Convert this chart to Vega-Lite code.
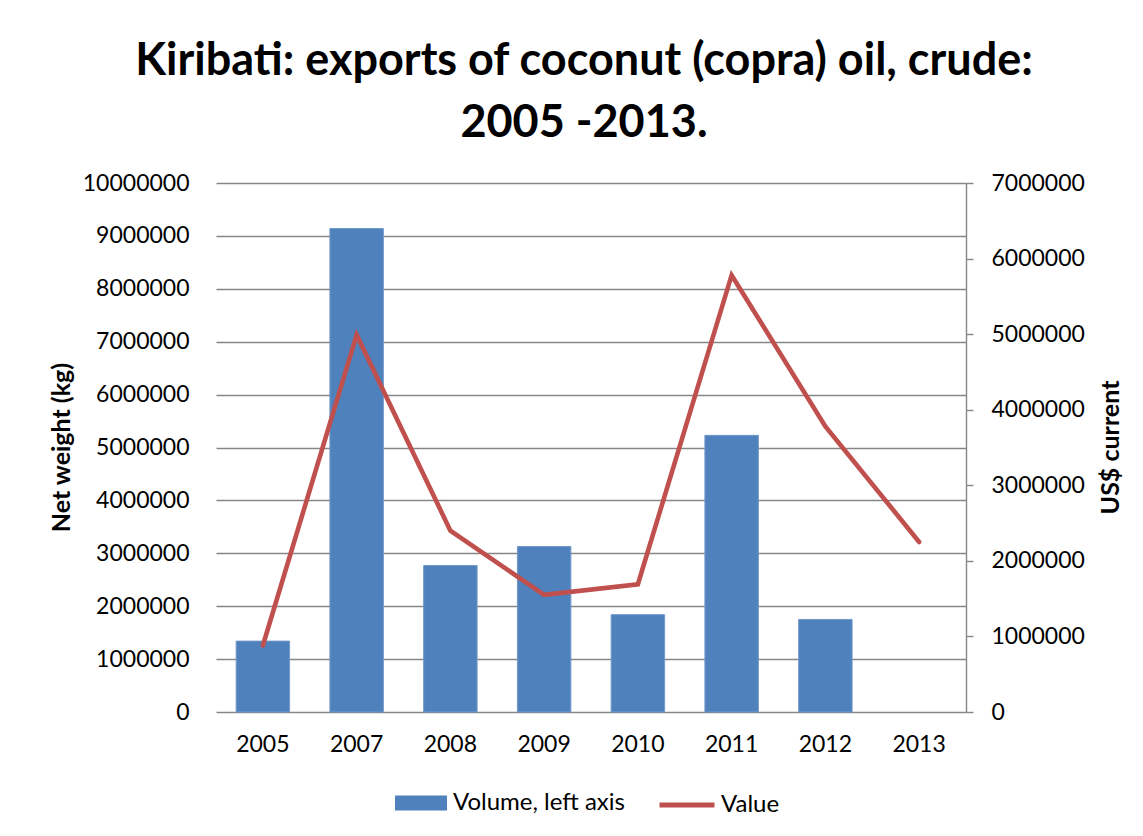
{
  "$schema": "https://vega.github.io/schema/vega-lite/v6.json",
  "width": 750,
  "height": 529,
  "autosize": {"type": "none"},
  "padding": {"left": 216, "top": 183, "right": 177, "bottom": 124},
  "background": "white",
  "title": {
    "text": ["Kiribati: exports of coconut (copra) oil, crude:", "2005 -2013."],
    "font": "Lato",
    "fontSize": 45,
    "fontWeight": "bold",
    "color": "black",
    "anchor": "middle",
    "dx": -7,
    "offset": 26,
    "lineHeight": 62
  },
  "config": {
    "view": {"stroke": null},
    "axis": {"labelFont": "Lato", "labelFontSize": 23, "labelColor": "black", "titleFont": "Lato", "titleFontSize": 25, "titleFontWeight": "bold", "titleColor": "black"}
  },
  "data": {
    "values": [
      {"year": "2005", "volume": 1340000, "value": 880000},
      {"year": "2007", "volume": 9140000, "value": 4990000},
      {"year": "2008", "volume": 2770000, "value": 2400000},
      {"year": "2009", "volume": 3130000, "value": 1550000},
      {"year": "2010", "volume": 1840000, "value": 1690000},
      {"year": "2011", "volume": 5230000, "value": 5780000},
      {"year": "2012", "volume": 1750000, "value": 3780000},
      {"year": "2013", "volume": null, "value": 2250000}
    ]
  },
  "encoding": {
    "x": {
      "field": "year",
      "type": "nominal",
      "sort": null,
      "scale": {"paddingInner": 0.43, "paddingOuter": 0.215},
      "axis": {"title": null, "labelAngle": 0, "domain": false, "ticks": false, "labelPadding": 21}
    }
  },
  "layer": [
    {
      "mark": {"type": "bar", "stroke": "#7398c9", "strokeWidth": 1},
      "encoding": {
        "y": {
          "field": "volume",
          "type": "quantitative",
          "scale": {"domain": [0, 10000000], "nice": false},
          "axis": {
            "orient": "left",
            "title": "Net weight (kg)",
            "values": [0, 1000000, 2000000, 3000000, 4000000, 5000000, 6000000, 7000000, 8000000, 9000000, 10000000],
            "format": "d",
            "grid": true,
            "gridColor": "#868686",
            "gridWidth": 1.4,
            "domain": false,
            "ticks": false,
            "labelPadding": 27,
            "titleAngle": 270,
            "titleX": -155,
            "titleY": 264,
            "titleAlign": "center",
            "titleBaseline": "middle"
          }
        },
        "fill": {
          "datum": "Volume, left axis",
          "type": "nominal",
          "scale": {"domain": ["Volume, left axis"], "range": ["#4F81BD"]},
          "legend": {
            "orient": "none",
            "legendX": 179,
            "legendY": 594,
            "direction": "horizontal",
            "title": null,
            "symbolType": "M-1,-0.29H1V0.29H-1Z",
            "symbolSize": 2704,
            "symbolStrokeWidth": 0,
            "symbolOpacity": 1,
            "labelFont": "Lato",
            "labelFontSize": 24,
            "labelColor": "black",
            "labelLimit": 400,
            "labelOffset": 6,
            "padding": 0
          }
        }
      }
    },
    {
      "mark": {"type": "line", "strokeWidth": 4.6, "strokeCap": "round", "strokeJoin": "miter"},
      "encoding": {
        "y": {
          "field": "value",
          "type": "quantitative",
          "scale": {"domain": [0, 7000000], "nice": false},
          "axis": {
            "orient": "right",
            "title": "US$ current",
            "values": [0, 1000000, 2000000, 3000000, 4000000, 5000000, 6000000, 7000000],
            "format": "d",
            "grid": false,
            "domain": true,
            "domainColor": "#868686",
            "domainWidth": 1.4,
            "ticks": true,
            "tickColor": "#868686",
            "tickWidth": 1.4,
            "tickSize": 7,
            "labelPadding": 18,
            "titleAngle": 270,
            "titleX": 144,
            "titleY": 264,
            "titleAlign": "center",
            "titleBaseline": "middle"
          }
        },
        "stroke": {
          "datum": "Value",
          "type": "nominal",
          "scale": {"domain": ["Value"], "range": ["#C0504D"]},
          "legend": {
            "orient": "none",
            "legendX": 441,
            "legendY": 592,
            "direction": "horizontal",
            "title": null,
            "symbolType": "M-1,0H1",
            "symbolSize": 3025,
            "symbolStrokeWidth": 5,
            "symbolFillColor": "transparent",
            "symbolOpacity": 1,
            "labelFont": "Lato",
            "labelFontSize": 24,
            "labelColor": "black",
            "labelLimit": 400,
            "labelOffset": 4,
            "padding": 0
          }
        }
      }
    }
  ],
  "resolve": {"scale": {"y": "independent"}}
}
